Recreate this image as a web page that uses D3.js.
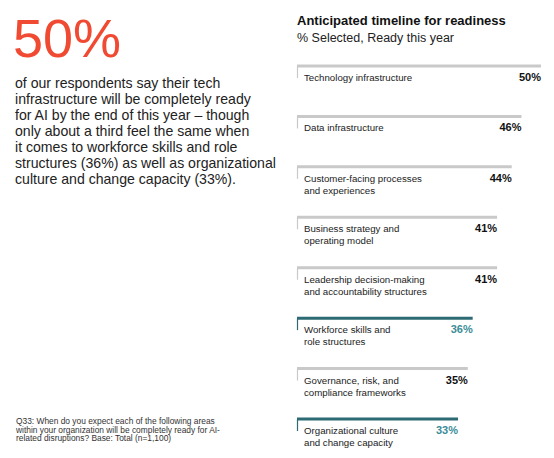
<!DOCTYPE html>
<html><head><meta charset="utf-8">
<script src="https://cdn.jsdelivr.net/npm/d3@7"></script>
<style>body{margin:0;background:#fff}text{font-family:"Liberation Sans",Arial,sans-serif}</style>
</head><body><svg id="c" width="554" height="458"></svg>
<script>
const categories=[["Technology infrastructure"],["Data infrastructure"],["Customer-facing processes","and experiences"],["Business strategy and","operating model"],["Leadership decision-making","and accountability structures"],["Workforce skills and","role structures"],["Governance, risk, and","compliance frameworks"],["Organizational culture","and change capacity"]];
const values=[50,46,44,41,41,36,35,33];
const highlighted=[false,false,false,false,false,true,false,true];
const paragraph=["of our respondents say their tech","infrastructure will be completely ready","for AI by the end of this year – though","only about a third feel the same when","it comes to workforce skills and role","structures (36%) as well as organizational","culture and change capacity (33%)."];
const footnote=["Q33: When do you expect each of the following areas","within your organization will be completely ready for AI-","related disruptions? Base: Total (n=1,100)"];
const svg=d3.select("#c");
svg.append("text").attr("x",13).attr("y",57).attr("font-size",54).attr("fill","#f04a32").text("50%");
svg.append("g").selectAll("text").data(paragraph).join("text").attr("x",15).attr("y",(d,i)=>88+i*16).attr("font-size",14.1).attr("fill","#222").text(d=>d);
svg.append("g").selectAll("text").data(footnote).join("text").attr("x",16).attr("y",(d,i)=>424+i*8.5).attr("font-size",8.4).attr("fill","#333").text(d=>d);
svg.append("text").attr("x",297).attr("y",25).attr("font-size",13).attr("font-weight","bold").attr("fill","#111").text("Anticipated timeline for readiness");
svg.append("text").attr("x",297).attr("y",42).attr("font-size",12.5).attr("fill","#222").text("% Selected, Ready this year");
const x=d3.scaleLinear().domain([0,50]).range([297,541]);
const y=d3.scalePoint().domain(d3.range(categories.length)).range([66,419]);
const g=svg.append("g");
const row=g.selectAll("g").data(values).join("g").attr("transform",(d,i)=>`translate(0,${y(i)})`);
row.append("line").attr("x1",x(0)).attr("x2",d=>x(d)).attr("stroke",(d,i)=>highlighted[i]?"#2c6b74":"#c9c9c9").attr("stroke-width",3);
row.append("line").attr("x1",x(0)+0.5).attr("x2",x(0)+0.5).attr("y1",0).attr("y2",12).attr("stroke",(d,i)=>highlighted[i]?"#2c6b74":"#c9c9c9").attr("stroke-width",1.2);
row.each(function(d,i){
  const r=d3.select(this);
  r.selectAll("text.l").data(categories[i]).join("text").attr("class","l").attr("x",304).attr("y",(t,j)=>15+j*12).attr("font-size",9.7).attr("fill","#222").text(t=>t);
  r.append("text").attr("x",x(d)).attr("y",15).attr("text-anchor","end").attr("font-size",11).attr("font-weight","bold").attr("fill",highlighted[i]?"#3a8c97":"#111").text(d+"%");
});
</script></body></html>
